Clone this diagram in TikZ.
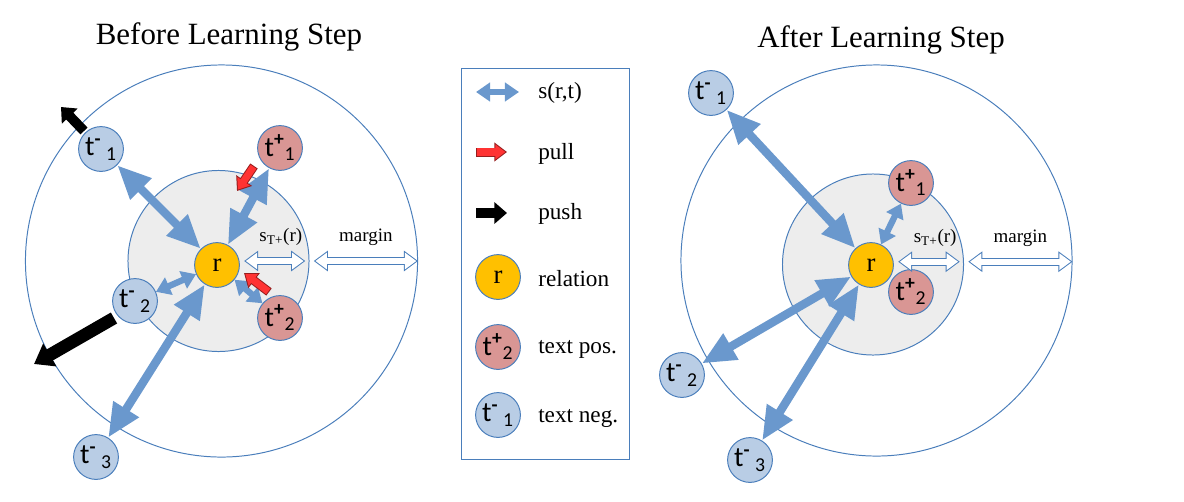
\documentclass[tikz,border=0pt]{standalone}
\usepackage{fontspec}
\setmainfont{Liberation Serif}
\newfontfamily\calfont{Carlito}
\usetikzlibrary{arrows.meta,calc}
\definecolor{rimblue}{RGB}{74,126,187}
\definecolor{simblue}{RGB}{106,152,205}
\definecolor{negfill}{RGB}{185,205,229}
\definecolor{posfill}{RGB}{217,150,148}
\definecolor{relfill}{RGB}{255,192,0}
\definecolor{zonegray}{RGB}{237,237,237}
\definecolor{pullred}{RGB}{255,51,51}
\definecolor{pulledge}{RGB}{150,30,30}
\newcommand{\tneg}[1]{{\calfont t\textsuperscript{\textbf{-}}\,\textsubscript{#1}}}
\newcommand{\tpos}[1]{{\calfont t\textsuperscript{\textbf{+}}\textsubscript{#1}}}
\tikzset{
  ttl/.style={font=\fontsize{22}{26}\selectfont},
  lbl/.style={font=\fontsize{16.5}{19}\selectfont,anchor=west,inner sep=0pt},
  gaplbl/.style={font=\fontsize{13.5}{15}\selectfont},
  ring/.style={circle,draw=rimblue,line width=0.7pt,inner sep=0pt},
  item/.style={circle,draw=rimblue,line width=0.7pt,minimum size=1.12cm,inner sep=0pt,font=\fontsize{20}{22}\selectfont},
  relnd/.style={item,fill=relfill,font=\fontsize{19}{21}\selectfont},
  posnd/.style={item,fill=posfill},
  negnd/.style={item,fill=negfill},
  sim/.style={draw=simblue,line width=6pt,{Triangle[width=20pt,length=24pt]}-{Triangle[width=20pt,length=24pt]}},
  simsm/.style={draw=simblue,line width=4.5pt,{Triangle[width=13pt,length=10pt]}-{Triangle[width=13pt,length=10pt]}},
  gapout/.style={draw=rimblue,line width=5.5pt,{Triangle[width=14pt,length=10pt]}-{Triangle[width=14pt,length=10pt]}},
  gapin/.style={draw=white,line width=4.1pt,shorten <=1.2pt,shorten >=1.2pt,{Triangle[width=11.3pt,length=8.1pt]}-{Triangle[width=11.3pt,length=8.1pt]}},
  pullout/.style={draw=pulledge,line width=6.4pt,-{Triangle[width=13pt,length=9pt]}},
  pullin/.style={draw=pullred,line width=5pt,shorten <=0.7pt,shorten >=1.2pt,-{Triangle[width=10.3pt,length=7.1pt]}},
  pusharr/.style={draw=black,line width=7pt,-{Triangle[width=15pt,length=9pt]}},
  pushbig/.style={draw=black,line width=9pt,-{Triangle[width=18pt,length=13pt]}}
}

\begin{document}
\begin{tikzpicture}[x=0.025cm,y=-0.025cm]
  \useasboundingbox (0,0) rectangle (1184,501);

  % Before Learning Step
  \node[ttl] (ttlB) at (229,37) {Before Learning Step};
  \node[ring,minimum size=9.8cm] (outerB) at (221.5,261) {};
  \node[ring,fill=zonegray,minimum size=4.525cm] (innerB) at (218.5,261) {};
  \node[relnd] (rB) at (217,265) {r};
  \node[negnd] (tnB1) at (101,149) {\tneg{1}};
  \node[posnd] (tpB1) at (280,148) {\tpos{1}};
  \node[negnd] (tnB2) at (135,301) {\tneg{2}};
  \node[posnd] (tpB2) at (280,318) {\tpos{2}};
  \node[negnd] (tnB3) at (96,457) {\tneg{3}};

  \draw[sim] (tnB1) -- (rB);
  \draw[sim] (tpB1) -- (rB);
  \draw[simsm] (tnB2) -- (rB);
  \draw[simsm] (tpB2) -- (rB);
  \draw[sim] (tnB3) -- (rB);

  % gap arrows
  \coordinate (gapB) at (rB.east |- innerB.east);
  \draw[gapout] ([xshift=3pt]gapB) -- ([xshift=-3pt]innerB.east)
    node[gaplbl,pos=0.6,above=5pt] (sgapB) {s\textsubscript{T+}(r)};
  \draw[gapin] ([xshift=3pt]gapB) -- ([xshift=-3pt]innerB.east);
  \draw[gapout] ([xshift=3pt]innerB.east) -- (innerB.east -| outerB.east)
    node[gaplbl,midway,above=5pt] (marginB) {margin};
  \draw[gapin] ([xshift=3pt]innerB.east) -- (innerB.east -| outerB.east);

  % push and pull
  \coordinate (pushB1s) at (84,131);
  \coordinate (pushB1e) at (61,107);
  \coordinate (pushB2s) at (114,318);
  \coordinate (pushB2e) at (34,364);
  \draw[pusharr] (pushB1s) -- (pushB1e);
  \draw[pushbig] (pushB2s) -- (pushB2e);
  \coordinate (pullB1s) at (254,166);
  \coordinate (pullB1e) at (237,191);
  \coordinate (pullB2s) at (269,292);
  \coordinate (pullB2e) at (244,273);
  \draw[pullout] (pullB1s) -- (pullB1e);
  \draw[pullin] (pullB1s) -- (pullB1e);
  \draw[pullout] (pullB2s) -- (pullB2e);
  \draw[pullin] (pullB2s) -- (pullB2e);

  % Legend
  \node[draw=rimblue,line width=0.7pt,minimum width=4.175cm,minimum height=9.75cm] (legbox) at (545.5,264) {};
  \coordinate (legsimL) at (476,92);
  \coordinate (legsimR) at (519,92);
  \draw[simsm] (legsimL) -- (legsimR);
  \node[lbl] (legsim) at (538,93) {s(r,t)};
  \coordinate (legpullL) at (476,152);
  \coordinate (legpullR) at (507,152);
  \draw[pullout] (legpullL) -- (legpullR);
  \draw[pullin] (legpullL) -- (legpullR);
  \node[lbl] (legpull) at (538,154) {pull};
  \coordinate (legpushL) at (476,213);
  \coordinate (legpushR) at (507,213);
  \draw[pusharr] (legpushL) -- (legpushR);
  \node[lbl] (legpush) at (538,214) {push};
  \node[relnd] (legrel) at (498,277) {r};
  \node[lbl] (legreltxt) at (538,279) {relation};
  \node[posnd] (legpos) at (498,347) {\tpos{2}};
  \node[lbl] (legpostxt) at (538,349) {text pos.};
  \node[negnd] (legneg) at (498,415) {\tneg{1}};
  \node[lbl] (legnegtxt) at (538,418) {text neg.};

  % After Learning Step
  \node[ttl] (ttlA) at (881,40) {After Learning Step};
  \node[ring,minimum size=9.775cm] (outerA) at (876.5,260.5) {};
  \node[ring,fill=zonegray,minimum size=4.525cm] (innerA) at (873,264.5) {};
  \node[relnd] (rA) at (871,265) {r};
  \node[negnd] (tnA1) at (711,93) {\tneg{1}};
  \node[posnd] (tpA1) at (911,183) {\tpos{1}};
  \node[posnd] (tpA2) at (911,292) {\tpos{2}};
  \node[negnd] (tnA2) at (682,375) {\tneg{2}};
  \node[negnd] (tnA3) at (750,460) {\tneg{3}};

  \draw[sim] (tnA1) -- (rA);
  \draw[simsm] (tpA1) -- (rA);
  \draw[sim] (tnA2) -- (rA);
  \draw[sim] (tnA3) -- (rA);

  \coordinate (gapA) at ([yshift=2pt]rA.east |- innerA.east);
  \coordinate (edgeA) at ([yshift=2pt]innerA.east);
  \draw[gapout] ([xshift=3pt]gapA) -- ([xshift=-3pt]edgeA)
    node[gaplbl,pos=0.6,above=5pt] (sgapA) {s\textsubscript{T+}(r)};
  \draw[gapin] ([xshift=3pt]gapA) -- ([xshift=-3pt]edgeA);
  \draw[gapout] ([xshift=3pt]edgeA) -- (edgeA -| outerA.east)
    node[gaplbl,midway,above=5pt] (marginA) {margin};
  \draw[gapin] ([xshift=3pt]edgeA) -- (edgeA -| outerA.east);
\end{tikzpicture}
\end{document}
